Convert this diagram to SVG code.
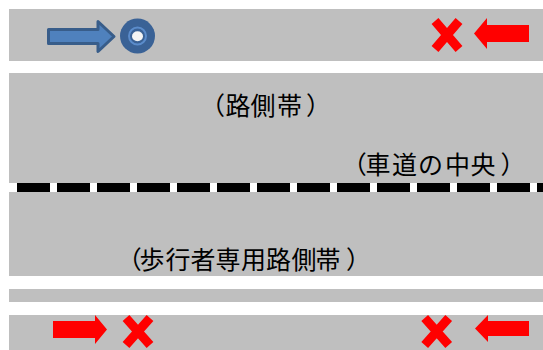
<svg xmlns="http://www.w3.org/2000/svg" width="543" height="350" viewBox="0 0 543 350">
<style>
.road{fill:#BFBFBF}
.red{fill:#FF0000}
.x{stroke:#FF0000;stroke-width:9;fill:none}
.lbl{font-family:"Noto Sans CJK JP","Noto Sans",sans-serif;font-size:25px;fill:#000;dominant-baseline:central}
</style>
<rect width="543" height="350" fill="#FFFFFF"/>
<g id="roads">
<rect class="road" x="9" y="9" width="534" height="52"/>
<rect class="road" x="9" y="73" width="534" height="110"/>
<rect class="road" x="9" y="192" width="534" height="84"/>
<rect class="road" x="9" y="289" width="534" height="13"/>
<rect class="road" x="9" y="315" width="534" height="35"/>
</g>
<g id="centerline">
<line x1="17" y1="187.5" x2="543" y2="187.5" stroke="#000" stroke-width="9" stroke-dasharray="33 7"/>
</g>
<g id="blue-arrow">
<path d="M48.5,29.5 H98 V21.5 L114,36.5 L98,51.5 V43.5 H48.5 Z" fill="#4F81BD" stroke="#385D8A" stroke-width="3" stroke-linejoin="round"/>
</g>
<g id="donut">
<circle cx="137.5" cy="36" r="17.5" fill="#3A6296"/>
<circle cx="137.5" cy="36" r="8.5" fill="none" stroke="#5B8CCB" stroke-width="2"/>
<ellipse cx="137.5" cy="36.3" rx="5.5" ry="5" fill="#F4F4F4"/>
</g>
<g id="top-right">
<path class="x" d="M435,21 L459,49 M459,21 L435,49"/>
<path class="red" d="M474,33.5 L487,18 V25 H529 V42 H487 V49 Z"/>
</g>
<g id="bottom-left">
<path class="red" d="M53,321 H95 V315 L107,329.5 L95,344 V338 H53 Z"/>
<path class="x" d="M126,318 L150,345 M150,318 L126,345"/>
</g>
<g id="bottom-right">
<path class="x" d="M424.7,318 L448.7,345 M448.7,318 L424.7,345"/>
<path class="red" d="M475,328.5 L488,315 V321 H529 V336 H488 V342 Z"/>
</g>
<g id="labels">
<text class="lbl" x="200 225.5 250.5 277 306" y="103.5">（路側帯）</text>
<text class="lbl" x="341.7 365.5 392 418 445 470.5 500.5" y="163.3">（車道の中央）</text>
<text class="lbl" x="116.7 139.5 165.5 190.5 215.5 241 266 291.5 315.5 346" y="258.3">（歩行者専用路側帯）</text>
</g>
</svg>
